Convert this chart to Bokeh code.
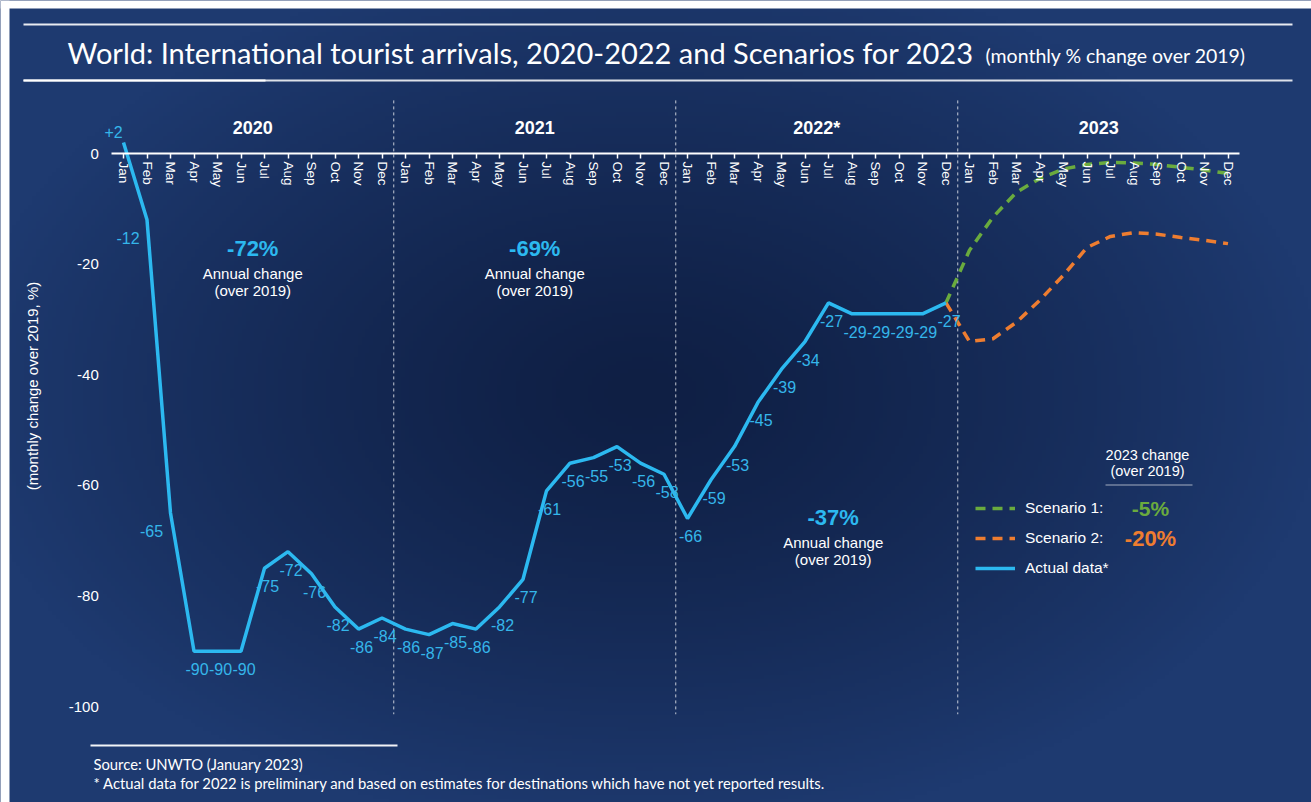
import numpy as np
from bokeh.plotting import figure
from bokeh.models import (Range1d, LinearAxis, FixedTicker, Label, BoxAnnotation,
                          Legend, LegendItem)
from bokeh.core.properties import value
from bokeh.embed import file_html
from bokeh.resources import INLINE

# ---------------- data ----------------
months = ["Jan", "Feb", "Mar", "Apr", "May", "Jun", "Jul", "Aug", "Sep", "Oct", "Nov", "Dec"]
years = ["2020", "2021", "2022*", "2023"]
actual = [2, -12, -65, -90, -90, -90, -75, -72, -76, -82, -86, -84,
          -86, -87, -85, -86, -82, -77, -61, -56, -55, -53, -56, -58,
          -66, -59, -53, -45, -39, -34, -27, -29, -29, -29, -29, -27]
# Dec 2022 .. Dec 2023
scenario1 = [-27, -17.5, -11.5, -7, -4.5, -2.8, -2.0, -1.6, -1.7, -2.0, -2.5, -3.0, -3.6]
scenario2 = [-27, -34, -33.5, -30.5, -26.5, -22, -17, -15, -14.3, -14.6, -15.2, -15.7, -16.3]
annual_change = ["-72%", "-69%", "-37%"]
scenario_change = ["-5%", "-20%"]
yticks = [0, -20, -40, -60, -80, -100]

CYAN = "#2cb9f0"
LABEL = "#35b6ea"
GREEN = "#6aab3e"
ORANGE = "#ee7d30"
FONT = "Liberation Sans"
TFONT = "Lato"

W_PX, H_PX = 1311, 802
n_months = len(months) * len(years)
idx = list(range(len(actual)))
idx_sc = list(range(len(actual) - 1, n_months))

# pixel layout of the plotting area inside the canvas
PX_X0, PX_PER_MONTH = 123.0, 23.5     # pixel of first month, pixels per month
PX_Y0, PX_PER_UNIT = 153.0, 5.53      # pixel of y=0, pixels per unit
x_lo = -PX_X0 / PX_PER_MONTH
x_hi = (W_PX - PX_X0) / PX_PER_MONTH
y_hi = PX_Y0 / PX_PER_UNIT
y_lo = -(H_PX - PX_Y0) / PX_PER_UNIT
Y_TOP, Y_BOT = 9.6, -101.4            # extent of the separators

p = figure(width=W_PX, height=H_PX, x_range=Range1d(x_lo, x_hi), y_range=Range1d(y_lo, y_hi),
           output_backend="svg", toolbar_location=None,
           x_axis_location=None, y_axis_location=None, min_border=0,
           background_fill_color="#1c376c", border_fill_color="#1c376c",
           outline_line_color=None)
p.grid.visible = False

# ---- radial background gradient ----
H, W = 200, 330
fy, fx = np.mgrid[0:H, 0:W]
fx = fx / (W - 1)
fy = fy / (H - 1)
r = np.sqrt(((fx - 0.49) / 0.52) ** 2 + ((fy - 0.51) / 0.55) ** 2)
t = np.clip(r, 0, 1) ** 1.3
c0 = np.array([15, 31, 68])
c1 = np.array([30, 58, 112])
img = np.empty((H, W), dtype=np.uint32)
view = img.view(dtype=np.uint8).reshape((H, W, 4))
for k in range(3):
    view[:, :, k] = (c0[k] + (c1[k] - c0[k]) * t).astype(np.uint8)
view[:, :, 3] = 255
p.image_rgba(image=[img], x=x_lo, y=y_lo, dw=x_hi - x_lo, dh=y_hi - y_lo)

# ---- axes ----
xax = LinearAxis(fixed_location=0, bounds=(-0.5, n_months - 0.5),
                 ticker=FixedTicker(ticks=list(range(n_months))),
                 major_label_overrides={i: months[i % 12] for i in range(n_months)},
                 major_label_orientation="vertical",
                 axis_line_color="white", axis_line_width=2,
                 major_tick_line_color="white", major_tick_line_width=1.5,
                 major_tick_in=0, major_tick_out=5, minor_tick_line_color=None,
                 major_label_text_color="white", major_label_text_font=FONT,
                 major_label_text_font_size="13.5px", major_label_standoff=3)
p.add_layout(xax, "below")

yax = LinearAxis(fixed_location=-0.5, bounds=(-100, 16), ticker=FixedTicker(ticks=yticks),
                 major_label_overrides={v: str(v) for v in yticks},
                 axis_line_color=None, major_tick_line_color=None, minor_tick_line_color=None,
                 major_label_text_color="white", major_label_text_font=FONT,
                 major_label_text_font_size="15px", major_label_standoff=7,
                 axis_label="(monthly change over 2019, %)", axis_label_text_color="white",
                 axis_label_text_font=FONT, axis_label_text_font_size="15px",
                 axis_label_text_font_style="normal", axis_label_standoff=24)
p.add_layout(yax, "left")

# ---- year separators ----
sep_x = [12 * k - 0.5 for k in range(1, len(years))]
p.segment(x0=sep_x, x1=sep_x, y0=[Y_TOP] * len(sep_x), y1=[Y_BOT] * len(sep_x),
          line_color="white", line_alpha=0.75, line_width=1, line_dash="3 3")

# year headings
p.text(x=[12 * k + 5.5 for k in range(len(years))], y=[4.7] * len(years), text=years,
       text_color="white", text_font=value(FONT), text_font_style="bold",
       text_font_size="18px", text_align="center", text_baseline="middle")

# ---- series ----
r_s1 = p.line(idx_sc, scenario1, line_color=GREEN, line_width=3.5, line_dash="10 7",
              line_join="round")
r_s2 = p.line(idx_sc, scenario2, line_color=ORANGE, line_width=3.5, line_dash="10 7",
              line_join="round")
r_act = p.line(idx, actual, line_color=CYAN, line_width=3.5)

# data labels
lab = ["+%d" % v if v > 0 else str(v) for v in actual]
p.text(x=idx[3:], y=actual[3:], text=lab[3:], x_offset=3, y_offset=12,
       text_color=LABEL, text_font=value(FONT), text_font_size="16px",
       text_align="center", text_baseline="top")
p.text(x=idx[:1], y=actual[:1], text=lab[:1], x_offset=-10, y_offset=-4,
       text_color=LABEL, text_font=value(FONT), text_font_size="16px",
       text_align="center", text_baseline="bottom")
p.text(x=idx[1:3], y=actual[1:3], text=lab[1:3], x_offset=-19, y_offset=12,
       text_color=LABEL, text_font=value(FONT), text_font_size="16px",
       text_align="center", text_baseline="top")

# annual change annotations
ann_x = [5.5, 17.5, 30.2]
ann_y = [-17.2, -17.2, -65.8]
for ax_, ay_, txt in zip(ann_x, ann_y, annual_change):
    p.add_layout(Label(x=ax_, y=ay_, text=txt, text_color=CYAN, text_font=FONT,
                       text_font_style="bold", text_font_size="22px",
                       text_align="center", text_baseline="middle"))
    p.add_layout(Label(x=ax_, y=ay_, y_offset=-25, text="Annual change", text_color="white",
                       text_font=FONT, text_font_size="15px",
                       text_align="center", text_baseline="middle"))
    p.add_layout(Label(x=ax_, y=ay_, y_offset=-42, text="(over 2019)", text_color="white",
                       text_font=FONT, text_font_size="15px",
                       text_align="center", text_baseline="middle"))

# ---- legend ----
legend = Legend(items=[LegendItem(label="Scenario 1:", renderers=[r_s1]),
                       LegendItem(label="Scenario 2:", renderers=[r_s2]),
                       LegendItem(label="Actual data*", renderers=[r_act])],
                location=(975, 224), background_fill_alpha=0, border_line_alpha=0,
                label_text_color="white", label_text_font=FONT, label_text_font_size="15.5px",
                glyph_width=40, glyph_height=20, label_height=20, spacing=10,
                label_standoff=10, padding=0, margin=0)
p.add_layout(legend)


def clabel(x, y, text, **kw):
    opts = dict(x_units="canvas", y_units="canvas", text_color="white", text_font=FONT,
                text_font_size="13px", text_baseline="middle")
    opts.update(kw)
    p.add_layout(Label(x=x, y=y, text=text, **opts))


def cbox(l, r_, t_, b, color="white", alpha=1.0):
    p.add_layout(BoxAnnotation(left=l, right=r_, top=t_, bottom=b, left_units="canvas",
                               right_units="canvas", top_units="canvas",
                               bottom_units="canvas", fill_color=color, fill_alpha=alpha,
                               line_color=None, level="overlay"))


clabel(1147, 454, "2023 change", text_align="center", text_font_size="14.5px")
clabel(1147, 470, "(over 2019)", text_align="center", text_font_size="14.5px")
cbox(1105, 1192, 484, 485, alpha=0.6)
clabel(1150, 508, scenario_change[0], text_align="center", text_color=GREEN,
       text_font_style="bold", text_font_size="21px")
clabel(1150, 538, scenario_change[1], text_align="center", text_color=ORANGE,
       text_font_style="bold", text_font_size="22px")

# ---- title ----
clabel(67, 52, "World: International tourist arrivals, 2020-2022 and Scenarios for 2023",
       text_font=TFONT, text_font_size="29px")
clabel(985, 55, "(monthly % change over 2019)", text_font=TFONT, text_font_size="19.5px")
cbox(23, 1292, 23, 25, alpha=0.9)
cbox(23, 1292, 79, 81, alpha=0.85)
cbox(23, 265, 79, 81, alpha=1.0)

# ---- footer ----
cbox(90, 397, 744, 746, alpha=0.95)
clabel(93, 763, "Source: UNWTO (January 2023)", text_font=TFONT, text_font_size="14.8px")
clabel(93, 782, "* Actual data for 2022 is preliminary and based on estimates for destinations "
       "which have not yet reported results.", text_font=TFONT, text_font_size="14.8px")

# white strip of the reference crop
cbox(0, 9, 0, H_PX, alpha=1.0)
cbox(0, W_PX, 0, 8, alpha=1.0)

open("out.html", "w").write(file_html(p, INLINE))
